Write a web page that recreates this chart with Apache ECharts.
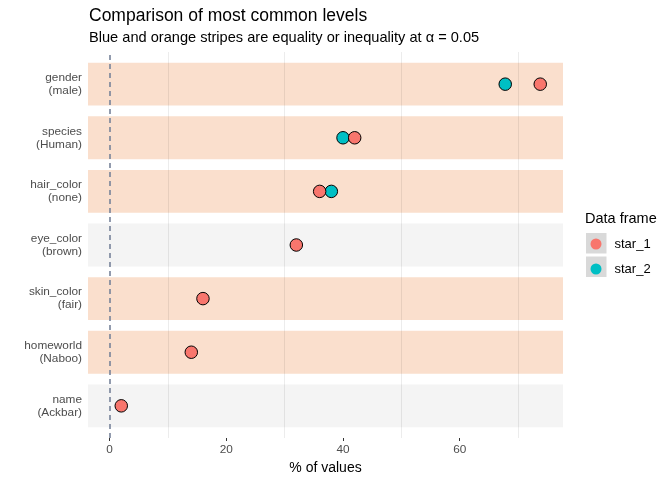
<!DOCTYPE html>
<html>
<head>
<meta charset="utf-8">
<script src="https://cdn.jsdelivr.net/npm/echarts@6/dist/echarts.min.js"></script>
<style>html,body{margin:0;padding:0;background:#fff}#c{width:672px;height:480px}</style>
</head>
<body>
<div id="c"></div>
<script>
// Rows listed top to bottom
const variables = ['gender', 'species', 'hair_color', 'eye_color', 'skin_color', 'homeworld', 'name'];
const levels = ['male', 'Human', 'none', 'brown', 'fair', 'Naboo', 'Ackbar'];
const star1 = [73.8, 42.0, 36.0, 32.0, 16.0, 14.0, 2.0];
const star2 = [67.8, 40.0, 38.0, null, null, null, null];
const stripeType = ['unequal', 'unequal', 'unequal', 'none', 'unequal', 'unequal', 'none'];
const xTickValues = [0, 20, 40, 60];
const xMinorGrid = [10, 30, 50, 70];
const seriesNames = ['star_1', 'star_2'];

const stripeColors = { unequal: '#FADFCD', equal: '#D5E5F2', none: '#F4F4F4' };
const n = variables.length;
const rowY = i => n - i; // top row gets highest value
const yLabel = {};
variables.forEach((v, i) => { yLabel[rowY(i)] = v + '\n(' + levels[i] + ')'; });

const stripeData = variables.map((v, i) => [0, rowY(i), stripeType[i]]);
const pts1 = star1.map((x, i) => x == null ? null : [x, rowY(i)]).filter(d => d);
const pts2 = star2.map((x, i) => x == null ? null : [x, rowY(i)]).filter(d => d);

const font = 'Liberation Sans, Arial, Helvetica, sans-serif';
const chart = echarts.init(document.getElementById('c'), null, { renderer: 'canvas' });
chart.setOption({
  animation: false,
  backgroundColor: '#fff',
  textStyle: { fontFamily: font },
  title: {
    text: 'Comparison of most common levels',
    subtext: 'Blue and orange stripes are equality or inequality at \u03b1 = 0.05',
    left: 89, top: 7, padding: 0, itemGap: 5,
    textStyle: { fontSize: 17.5, fontWeight: 'normal', color: '#000', fontFamily: font },
    subtextStyle: { fontSize: 14.6, color: '#000', fontFamily: font }
  },
  grid: { left: 88, right: 109, top: 52, bottom: 42, containLabel: false, outerBoundsMode: 'none' },
  xAxis: {
    type: 'value', min: -3.7, max: 77.7,
    name: '% of values', nameLocation: 'middle', nameGap: 22,
    nameTextStyle: { fontSize: 14, color: '#000', fontFamily: font },
    axisLine: { show: false },
    axisTick: { show: true, length: 3, lineStyle: { color: '#333' }, customValues: xTickValues },
    axisLabel: { color: '#4d4d4d', fontSize: 11.8, margin: 6, customValues: xTickValues, fontFamily: font },
    splitLine: { show: false }
  },
  yAxis: {
    type: 'value', min: 0.4, max: n + 0.6,
    axisLine: { show: false },
    axisTick: { show: true, length: 3, lineStyle: { color: '#333' }, customValues: variables.map((v, i) => rowY(i)) },
    axisLabel: {
      color: '#4d4d4d', fontSize: 11.8, lineHeight: 13, margin: 6, align: 'right', fontFamily: font,
      customValues: variables.map((v, i) => rowY(i)),
      formatter: v => yLabel[Math.round(v)] || ''
    },
    splitLine: { show: false }
  },
  legend: {
    data: seriesNames,
    orient: 'vertical', left: 590.5, top: 237.5,
    itemWidth: 11, itemHeight: 11, itemGap: 12, padding: 0,
    icon: 'circle',
    itemStyle: { borderWidth: 0 },
    textStyle: { fontSize: 13, color: '#000', padding: [0, 0, 0, 8], fontFamily: font }
  },
  graphic: [
    { type: 'text', left: 585, top: 211, style: { text: 'Data frame', font: '14.5px ' + font, fill: '#000' } },
    { type: 'rect', left: 586, top: 233, z: -1, shape: { width: 20.5, height: 20.5 }, style: { fill: '#D9D9D9' } },
    { type: 'rect', left: 586, top: 256.5, z: -1, shape: { width: 20.5, height: 20.5 }, style: { fill: '#D9D9D9' } }
  ],
  series: [
    {
      type: 'custom', name: 'stripes', silent: true, z: 1,
      encode: { x: 0, y: 1 },
      data: stripeData,
      renderItem: function (params, api) {
        const y = api.value(1);
        const t = stripeData[params.dataIndex][2];
        const top = api.coord([0, y + 0.4])[1];
        const bot = api.coord([0, y - 0.4])[1];
        const cs = params.coordSys;
        return { type: 'rect', shape: { x: cs.x, y: top, width: cs.width, height: bot - top }, style: { fill: stripeColors[t] } };
      },
      markLine: {
        silent: true, symbol: 'none', label: { show: false },
        lineStyle: { color: 'rgba(0,0,0,0.075)', width: 1, type: 'solid' },
        data: xMinorGrid.map(v => ({ xAxis: v }))
      }
    },
    {
      type: 'scatter', name: 'zero', silent: true, z: 2, data: [],
      markLine: {
        silent: true, symbol: 'none', label: { show: false },
        lineStyle: { color: '#77839A', width: 1.6, type: [5, 4] },
        data: [{ xAxis: 0 }]
      }
    },
    {
      type: 'scatter', name: 'star_2', z: 3, data: pts2, symbolSize: 12.5,
      itemStyle: { color: '#00BFC4', borderColor: '#000', borderWidth: 1, opacity: 1 }
    },
    {
      type: 'scatter', name: 'star_1', z: 4, data: pts1, symbolSize: 12.5,
      itemStyle: { color: '#F8766D', borderColor: '#000', borderWidth: 1, opacity: 1 }
    }
  ]
});
</script>
</body>
</html>
